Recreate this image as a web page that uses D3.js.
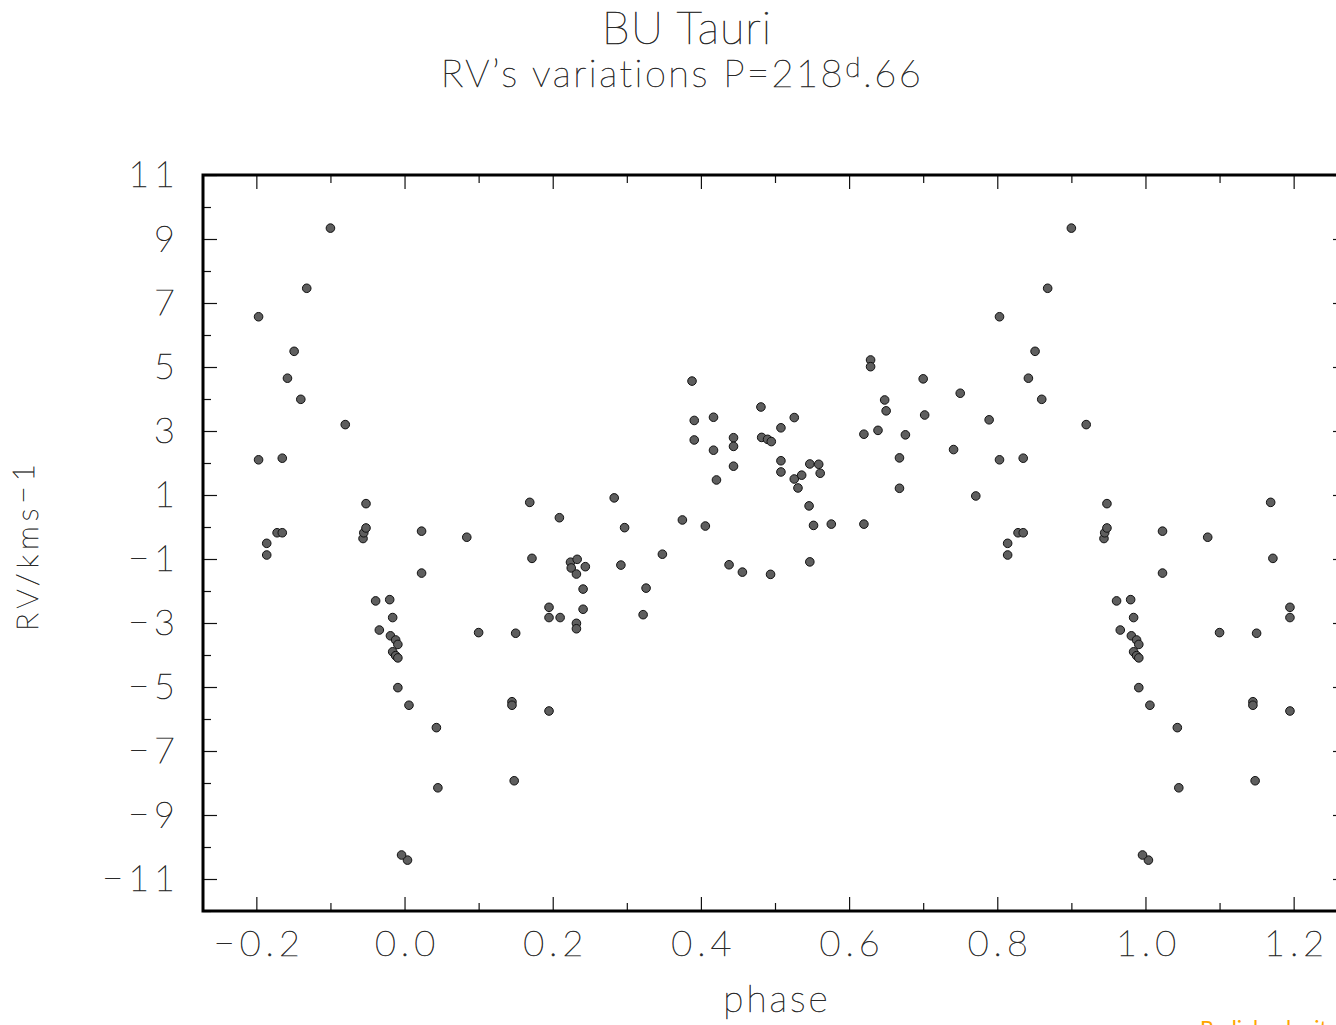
<!DOCTYPE html>
<html>
<head>
<meta charset="utf-8">
<script src="https://cdn.jsdelivr.net/npm/d3@7"></script>
<style>
  body { margin: 0; background: #fff; }
  text { font-family: "Lato", "DejaVu Sans", sans-serif; font-weight: 100; fill: #2a2a2a;
         stroke: #2a2a2a; stroke-width: 0.6px; }
</style>
</head>
<body>
<div id="container"></div>
<script>
// phase (0..1) and radial velocity (km/s)
const phase = [
  0.004, 0.006, 0.023, 0.023, 0.043, 0.045, 0.084, 0.100, 0.145, 0.145,
  0.148, 0.150, 0.169, 0.172, 0.195, 0.195, 0.195, 0.209, 0.210, 0.224,
  0.225, 0.232, 0.232, 0.232, 0.233, 0.241, 0.241, 0.244, 0.283, 0.292,
  0.297, 0.322, 0.326, 0.348, 0.375, 0.388, 0.391, 0.391, 0.406, 0.417,
  0.417, 0.421, 0.438, 0.444, 0.444, 0.444, 0.456, 0.481, 0.482, 0.490,
  0.494, 0.495, 0.508, 0.508, 0.508, 0.526, 0.526, 0.531, 0.536, 0.546,
  0.547, 0.547, 0.552, 0.559, 0.561, 0.576, 0.620, 0.620, 0.629, 0.629,
  0.639, 0.648, 0.650, 0.668, 0.668, 0.676, 0.700, 0.702, 0.741, 0.750,
  0.771, 0.789, 0.803, 0.803, 0.814, 0.814, 0.828, 0.835, 0.835, 0.842,
  0.851, 0.860, 0.868, 0.900, 0.920, 0.944, 0.945, 0.948, 0.948, 0.961,
  0.966, 0.980, 0.981, 0.984, 0.984, 0.988, 0.988, 0.991, 0.991, 0.991,
  0.996
];
const rv = [
  -10.41, -5.57, -0.13, -1.44, -6.27, -8.15, -0.32, -3.30, -5.46, -5.57,
  -7.93, -3.32, 0.77, -0.98, -2.51, -2.83, -5.75, 0.29, -2.83, -1.10,
  -1.28, -1.47, -3.01, -3.18, -1.01, -1.94, -2.57, -1.24, 0.91, -1.19,
  -0.02, -2.74, -1.91, -0.85, 0.22, 4.56, 3.33, 2.72, 0.03, 3.43,
  2.40, 1.47, -1.18, 2.79, 2.52, 1.90, -1.41, 3.75, 2.80, 2.74,
  -1.48, 2.67, 3.10, 2.07, 1.72, 3.42, 1.50, 1.22, 1.62, 0.66,
  1.97, -1.09, 0.05, 1.96, 1.68, 0.09, 0.09, 2.90, 5.22, 5.01,
  3.02, 3.97, 3.63, 2.16, 1.21, 2.88, 4.63, 3.50, 2.42, 4.18,
  0.97, 3.35, 6.57, 2.10, -0.51, -0.875, -0.18, -0.18, 2.15, 4.65,
  5.49, 3.99, 7.46, 9.34, 3.20, -0.36, -0.18, -0.03, 0.73, -2.31,
  -3.22, -2.27, -3.40, -2.83, -3.90, -3.53, -4.02, -3.67, -4.09, -5.02,
  -10.25
];
const xTickLabels = [-0.2, 0.0, 0.2, 0.4, 0.6, 0.8, 1.0, 1.2];
const yTickLabels = [11, 9, 7, 5, 3, 1, -1, -3, -5, -7, -9, -11];
const phaseShown = [-0.2, 1.2]; // range over which the folded curve is repeated

const W = 1336, H = 1025;
const svg = d3.select("#container").append("svg")
    .attr("width", W).attr("height", H);

const x = d3.scaleLinear().domain([-0.272, 1.272]).range([203, 1347]);
const y = d3.scaleLinear().domain([-12, 11]).range([911, 175]);

// phase-folded: each point also shown one cycle earlier / later
const points = [];
phase.forEach((p, i) => {
    [-1, 0, 1].forEach(k => {
        const ph = p + k;
        if (ph >= phaseShown[0] - 0.002 && ph <= phaseShown[1] + 0.002) points.push({ ph: ph, v: rv[i] });
    });
});

const minorX = d3.range(-0.2, 1.25, 0.1).map(d => Math.round(d * 10) / 10)
    .filter(d => !xTickLabels.some(t => Math.abs(t - d) < 1e-6));
const minorY = d3.range(-12, 12, 2);
const fmtX = d => d3.format(".1f")(d).replace("-", "\u2212");
const fmtY = d => String(d).replace("-", "\u2212");

function styleAxis(g) {
    g.select(".domain").remove();
    g.selectAll(".tick line").attr("stroke", "#111").attr("stroke-width", 1.2);
}
function styleLabels(g) {
    g.selectAll("text")
        .style("font-size", "36px").style("font-family", null)
        .style("letter-spacing", "5px").attr("fill", "#2a2a2a");
}

// bottom
svg.append("g").attr("transform", "translate(0,911)")
    .call(d3.axisBottom(x).tickValues(xTickLabels).tickSize(-14).tickPadding(19).tickFormat(fmtX))
    .call(styleAxis).call(styleLabels)
    .call(g => g.selectAll("text").attr("dx", "2.5px"));
svg.append("g").attr("transform", "translate(0,911)")
    .call(d3.axisBottom(x).tickValues(minorX).tickSize(-8).tickFormat(""))
    .call(styleAxis);
// top
svg.append("g").attr("transform", "translate(0,175)")
    .call(d3.axisTop(x).tickValues(xTickLabels).tickSize(-14).tickFormat(""))
    .call(styleAxis);
svg.append("g").attr("transform", "translate(0,175)")
    .call(d3.axisTop(x).tickValues(minorX).tickSize(-8).tickFormat(""))
    .call(styleAxis);
// left
svg.append("g").attr("transform", "translate(203,0)")
    .call(d3.axisLeft(y).tickValues(yTickLabels).tickSize(-14).tickPadding(23).tickFormat(fmtY))
    .call(styleAxis).call(styleLabels);
svg.append("g").attr("transform", "translate(203,0)")
    .call(d3.axisLeft(y).tickValues(minorY).tickSize(-8).tickFormat(""))
    .call(styleAxis);
// right
svg.append("g").attr("transform", "translate(1347,0)")
    .call(d3.axisRight(y).tickValues(yTickLabels).tickSize(-14).tickFormat(""))
    .call(styleAxis);
svg.append("g").attr("transform", "translate(1347,0)")
    .call(d3.axisRight(y).tickValues(minorY).tickSize(-8).tickFormat(""))
    .call(styleAxis);

// frame
svg.append("rect")
    .attr("x", x.range()[0]).attr("y", y.range()[1])
    .attr("width", x.range()[1] - x.range()[0])
    .attr("height", y.range()[0] - y.range()[1])
    .attr("fill", "none").attr("stroke", "#000").attr("stroke-width", 3);

// points
svg.append("g").selectAll("circle")
    .data(points)
    .enter().append("circle")
    .attr("cx", d => x(d.ph))
    .attr("cy", d => y(d.v))
    .attr("r", 4.3)
    .attr("fill", "#5e5e5e")
    .attr("stroke", "#111")
    .attr("stroke-width", 1);

// titles
svg.append("text").attr("x", 687).attr("y", 44)
    .attr("text-anchor", "middle").style("font-size", "45px")
    .style("letter-spacing", "1px").text("BU Tauri");
const sub = svg.append("text").attr("x", 682).attr("y", 87)
    .attr("text-anchor", "middle").style("font-size", "38px").style("letter-spacing", "2.5px");
sub.append("tspan").text("RV\u2019s variations P=218");
sub.append("tspan").attr("dy", -10).style("font-size", "28px").text("d");
sub.append("tspan").attr("dy", 10).text(".66");

svg.append("text").attr("x", 777).attr("y", 1012)
    .attr("text-anchor", "middle").style("font-size", "37px")
    .style("letter-spacing", "3px").text("phase");

const yl = svg.append("text")
    .attr("transform", "translate(38,545) rotate(-90)")
    .attr("text-anchor", "middle").style("font-size", "30px").style("letter-spacing", "5px");
yl.append("tspan").text("RV/kms");
yl.append("tspan").attr("dy", -4).text("\u22121");

svg.append("text").attr("x", 1200).attr("y", 1036)
    .style("font-size", "22px").style("font-weight", 400)
    .style("fill", "#ffa500").style("stroke", "none")
    .text("Radial velocity curve");
</script>
</body>
</html>
